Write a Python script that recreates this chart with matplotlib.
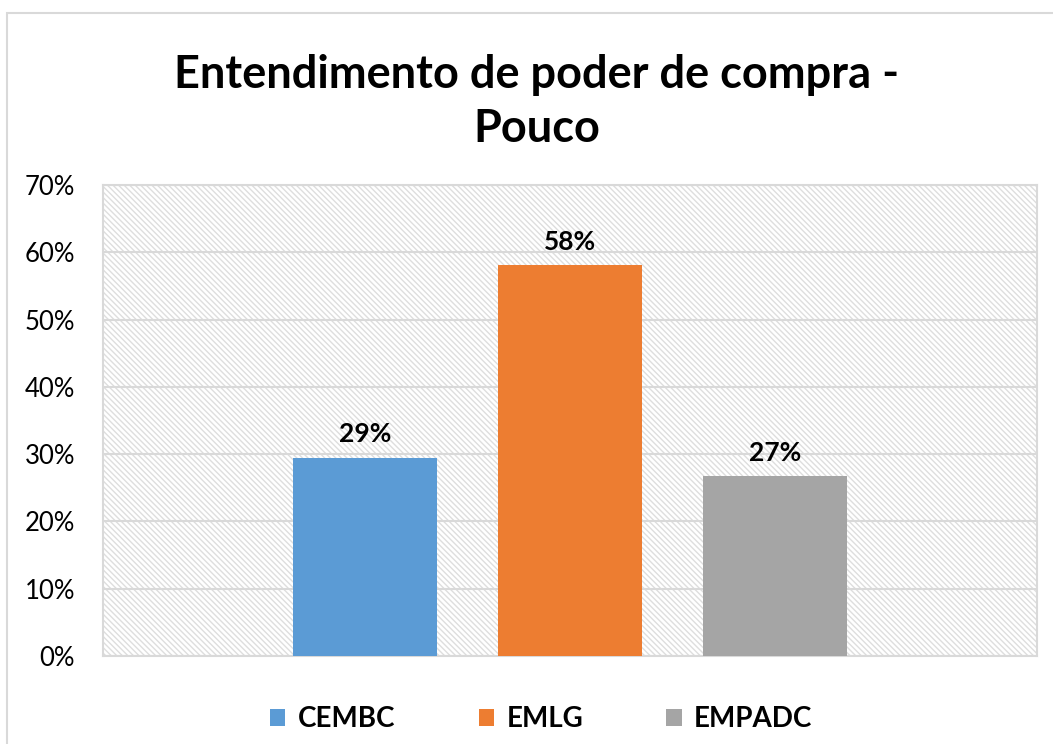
import numpy as np
import matplotlib.pyplot as plt
from matplotlib.patches import Rectangle
from matplotlib.ticker import PercentFormatter

plt.rcParams['font.family'] = ['Lato', 'DejaVu Sans']
plt.rcParams['hatch.linewidth'] = 1.0

# dados
escolas = ["CEMBC", "EMLG", "EMPADC"]
valores = [0.295, 0.581, 0.267]
rotulos = ["29%", "58%", "27%"]
cores = ["#5b9bd5", "#ed7d31", "#a5a5a5"]
yticks = [0, 0.1, 0.2, 0.3, 0.4, 0.5, 0.6, 0.7]

fig = plt.figure(figsize=(10.53, 7.44), dpi=100)
fig.patches.append(Rectangle((7 / 1053, -0.01), 1.1, (744 - 13) / 744 + 0.01,
                             transform=fig.transFigure, fill=False,
                             edgecolor="#d9d9d9", linewidth=1.5))

ax = fig.add_axes([103 / 1053, 88 / 744, 934 / 1053, 471 / 744])
# fundo com hachura
ax.add_patch(Rectangle((0, 0), 1, 1, transform=ax.transAxes, facecolor="white",
                       edgecolor="#dedede", linewidth=0, hatch="\\\\\\\\\\\\", zorder=0))

x = np.arange(len(escolas)) - 1
for i in range(len(escolas)):
    ax.bar(x[i], valores[i], width=0.7, color=cores[i], label=escolas[i], zorder=3)
    ax.text(x[i], valores[i] + 0.017, rotulos[i], ha="center", va="bottom",
            fontsize=19, fontweight="bold", color="black", zorder=4)

ax.set_xlim(-2.28, 2.28)
ax.set_ylim(0, 0.7)
ax.set_yticks(yticks)
ax.yaxis.set_major_formatter(PercentFormatter(1.0, decimals=0))
ax.set_xticks([])
ax.tick_params(axis="y", length=0, labelsize=18.5, pad=20)
ax.grid(axis="y", color="#d9d9d9", linewidth=1.5, zorder=1)
for s in ax.spines.values():
    s.set_color("#d9d9d9")
    s.set_linewidth(1.5)

fig.text(0.51, 0.899, "Entendimento de poder de compra -", ha="center", va="center",
         fontsize=32.5, fontweight="bold")
fig.text(0.51, 0.826, "Pouco", ha="center", va="center",
         fontsize=32.5, fontweight="bold")

fig.legend(loc="center", bbox_to_anchor=(0.514, 0.033), ncol=3, frameon=False,
           prop={"size": 20, "weight": "bold"}, handlelength=0.55, handleheight=0.55,
           columnspacing=3.0, handletextpad=0.45)

plt.savefig("out.png", dpi=100)
